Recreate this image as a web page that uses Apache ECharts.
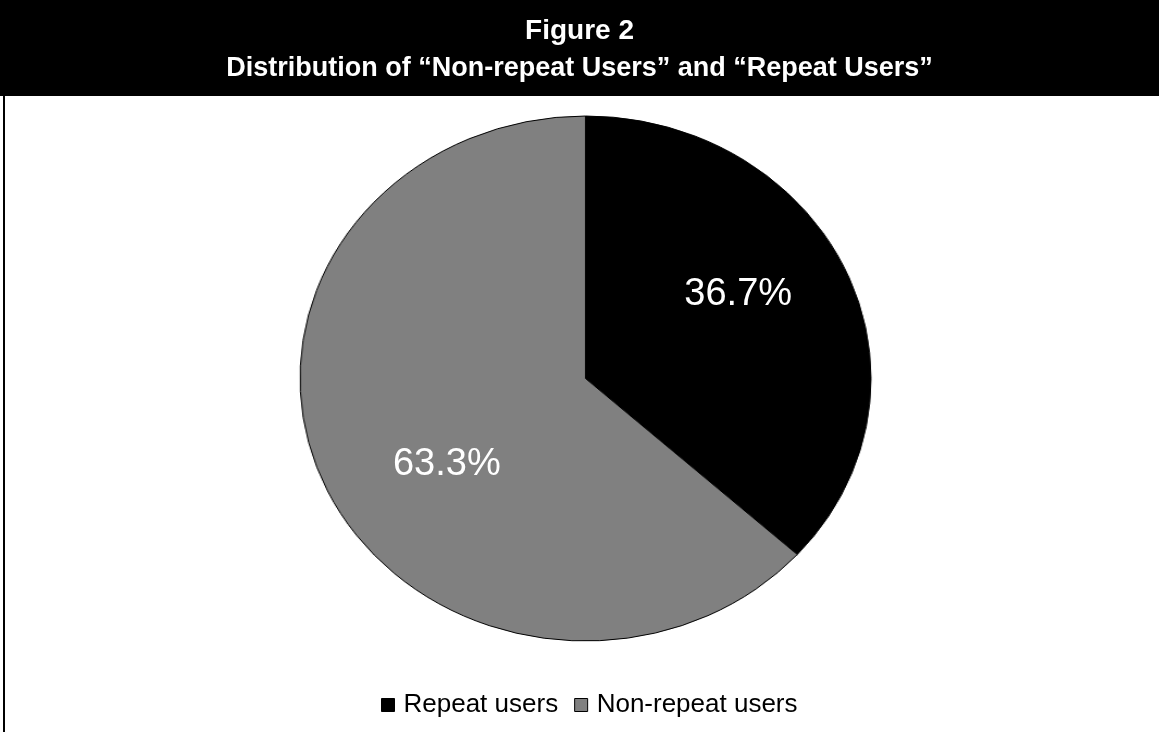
<!DOCTYPE html>
<html>
<head>
<meta charset="utf-8">
<title>Figure 2</title>
<script src="https://cdn.jsdelivr.net/npm/echarts@6/dist/echarts.min.js"></script>
<style>
  html, body { margin: 0; padding: 0; background: #fff; }
  #wrap { position: relative; width: 1159px; height: 732px; overflow: hidden; }
  #pieLayer, #main { position: absolute; left: 0; top: 0; width: 1159px; height: 732px; }
  /* the pie is drawn as a circle and widened into an ellipse */
  #pieLayer { transform-origin: 585.5px 378.5px; transform: scaleX(1.0876); }
</style>
</head>
<body>
<div id="wrap">
  <div id="pieLayer"></div>
  <div id="main"></div>
</div>
<script>
// Chart data
const categories = ['Repeat users', 'Non-repeat users'];
const shares = [36.7, 63.3];
const titleText = 'Figure 2';
const subtitleText = 'Distribution of \u201cNon-repeat Users\u201d and \u201cRepeat Users\u201d';

const palette = ['#000000', '#808080'];
const FONT = '"Liberation Sans", Arial, sans-serif';
const CENTER = [585.5, 378.5];
const RADIUS = 262.5;

const pieData = categories.map((name, i) => ({ name, value: shares[i] }));

// Filled slices (stretched horizontally by the CSS transform)
const pieChart = echarts.init(document.getElementById('pieLayer'), null, { renderer: 'canvas' });
pieChart.setOption({
  animation: false,
  color: palette,
  series: [{
    type: 'pie',
    center: CENTER,
    radius: [0, RADIUS],
    startAngle: 90,
    clockwise: true,
    silent: true,
    label: { show: false },
    labelLine: { show: false },
    itemStyle: { borderColor: '#000', borderWidth: 1 },
    data: pieData
  }]
});

// Frame, titles, percentage labels and legend
const labelOffsets = [[30, -30], [-16, 32]];
const main = echarts.init(document.getElementById('main'), null, { renderer: 'canvas' });
main.setOption({
  animation: false,
  backgroundColor: 'transparent',
  graphic: [
    { type: 'rect', z: 0, shape: { x: 0, y: 0, width: 1159, height: 96 }, style: { fill: '#000' } },
    { type: 'rect', z: 0, shape: { x: 3, y: 96, width: 2, height: 636 }, style: { fill: '#000' } }
  ],
  title: {
    text: titleText,
    subtext: subtitleText,
    left: 'center',
    top: 12,
    itemGap: 10,
    textStyle: { color: '#fff', fontFamily: FONT, fontWeight: 'bold', fontSize: 28 },
    subtextStyle: { color: '#fff', fontFamily: FONT, fontWeight: 'bold', fontSize: 27 }
  },
  legend: {
    bottom: 9,
    left: 376,
    icon: 'rect',
    itemWidth: 13,
    itemHeight: 13,
    itemGap: 16,
    selectedMode: false,
    textStyle: { fontFamily: FONT, fontSize: 26, color: '#000', padding: [0, 0, 0, 4] },
    data: categories.map((name, i) => ({
      name,
      itemStyle: { color: palette[i], borderColor: '#000', borderWidth: 1 }
    }))
  },
  series: [{
    type: 'pie',
    center: CENTER,
    radius: [0, RADIUS],
    startAngle: 90,
    clockwise: true,
    silent: true,
    itemStyle: { color: 'rgba(0,0,0,0)', borderWidth: 0 },
    labelLine: { show: false },
    label: {
      show: true,
      position: 'inside',
      formatter: p => p.value.toFixed(1) + '%',
      color: '#fff',
      fontFamily: FONT,
      fontSize: 38
    },
    data: pieData.map((d, i) => ({ ...d, label: { offset: labelOffsets[i] } }))
  }]
});
</script>
</body>
</html>
